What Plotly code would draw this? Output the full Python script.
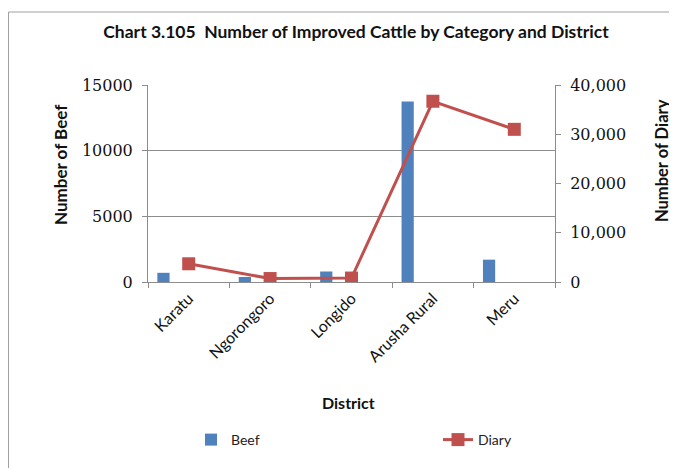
import plotly.graph_objects as go

districts = ["Karatu", "Ngorongoro", "Longido", "Arusha Rural", "Meru"]
beef = [700, 380, 800, 13750, 1700]
diary = [3700, 700, 800, 36700, 31000]

left_ticks = [0, 5000, 10000, 15000]
right_ticks = [0, 10000, 20000, 30000, 40000]

idx = list(range(len(districts)))
bar_offset = -0.31

BLUE = "#4F81BD"
RED = "#C0504D"
GRID = "#8C8C8C"
SANS = "Lato, Carlito, 'Open Sans', sans-serif"
SERIF = "'DejaVu Serif', serif"

# page body has an 8px margin: lay the figure out in reference pixel coords minus 8
OFF = 8
FW, FH = 677 - OFF, 468 - OFF
W0, W1, H0, H1 = 148 - OFF, 555 - OFF, 85 - OFF, 282 - OFF

def px2x(px):
    return (px - OFF - W0) / (W1 - W0)

def px2y(py):
    return (H1 - (py - OFF)) / (H1 - H0)

fig = go.Figure()
fig.add_trace(go.Bar(
    x=[i + bar_offset for i in idx], y=beef, name="Beef",
    marker=dict(color=BLUE, line=dict(width=0)), width=0.15,
    yaxis="y", legend="legend",
))
fig.add_trace(go.Scatter(
    x=idx, y=diary, name="Diary", mode="lines+markers",
    line=dict(color=RED, width=3),
    marker=dict(symbol="square", size=13, color=RED),
    yaxis="y2", legend="legend2",
))

legend_common = dict(
    orientation="h", xanchor="left", yanchor="middle",
    xref="paper", yref="paper",
    font=dict(family=SANS, size=14, color="#222"),
    bgcolor="rgba(0,0,0,0)",
)

fig.update_layout(
    width=FW, height=FH,
    margin=dict(l=W0, r=FW - W1, t=H0, b=FH - H1, autoexpand=False),
    paper_bgcolor="white", plot_bgcolor="white",
    showlegend=True,
    legend=dict(x=px2x(191), y=px2y(440), **legend_common),
    legend2=dict(x=px2x(438), y=px2y(440), **legend_common),
    title=dict(
        text="<b>Chart 3.105  Number of Improved Cattle by Category and District</b>",
        x=px2x(356), xref="paper", xanchor="center",
        y=1 - (32 - OFF) / FH, yref="container", yanchor="middle",
        font=dict(family=SANS, size=17.5, color="#111"),
    ),
    xaxis=dict(
        range=[-0.5, 4.5],
        tickmode="array", tickvals=idx, ticktext=districts,
        tickangle=-45, ticks="",
        tickfont=dict(family=SANS, size=16, color="#111"),
        showgrid=False, showline=True, linecolor=GRID, linewidth=1,
        zeroline=False,
        minor=dict(tickmode="linear", tick0=-0.5, dtick=1, ticks="outside",
                   ticklen=5, tickcolor=GRID, showgrid=False),
    ),
    yaxis=dict(
        range=[0, 15000], tickmode="array", tickvals=left_ticks,
        ticktext=[str(v) for v in left_ticks],
        ticks="outside", ticklen=5, tickcolor=GRID,
        tickfont=dict(family=SERIF, size=16, color="#111"),
        showgrid=True, gridcolor=GRID, gridwidth=1,
        showline=True, linecolor=GRID, linewidth=1, zeroline=False,
        ticklabelstandoff=6,
    ),
    yaxis2=dict(
        range=[0, 40000], tickmode="array", tickvals=right_ticks,
        tickformat=",", overlaying="y", side="right",
        ticks="outside", ticklen=5, tickcolor=GRID,
        tickfont=dict(family=SERIF, size=16, color="#111"),
        showgrid=False, showline=True, linecolor=GRID, linewidth=1,
        zeroline=False, ticklabelstandoff=6,
    ),
    annotations=[
        dict(text="<b>Number of Beef</b>", textangle=-90, x=px2x(60), y=px2y(165),
             xref="paper", yref="paper", showarrow=False, xanchor="center", yanchor="middle",
             font=dict(family=SANS, size=17, color="#111")),
        dict(text="<b>Number of Diary</b>", textangle=-90, x=px2x(662), y=px2y(161),
             xref="paper", yref="paper", showarrow=False, xanchor="center", yanchor="middle",
             font=dict(family=SANS, size=16.5, color="#111")),
        dict(text="<b>District</b>", x=px2x(348), y=px2y(402),
             xref="paper", yref="paper", showarrow=False, xanchor="center", yanchor="middle",
             font=dict(family=SANS, size=16, color="#111")),
    ],
    shapes=[
        dict(type="rect", xref="paper", yref="paper",
             x0=px2x(OFF + 0.5), x1=px2x(700), y0=px2y(480), y1=px2y(12),
             line=dict(color="#A0A0A0", width=1), layer="below"),
    ],
)

fig.write_html("out.html")
